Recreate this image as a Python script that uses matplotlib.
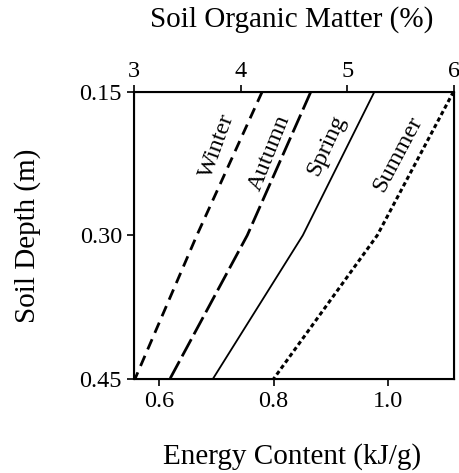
import numpy as np
import matplotlib.pyplot as plt

plt.rcParams['font.family'] = ['Liberation Serif', 'DejaVu Serif']

# depth (m) and energy content (kJ/g) for each season
depth = [0.15, 0.30, 0.45]
winter = [0.780, 0.666, 0.558]
autumn = [0.865, 0.754, 0.619]
spring = [0.976, 0.851, 0.694]
summer = [1.114, 0.981, 0.800]

series = [
    ("Winter", winter, (0, (4, 2.5)), 2.0, (0.702, 0.207, 70)),
    ("Autumn", autumn, (0, (7, 2)), 2.0, (0.793, 0.214, 68)),
    ("Spring", spring, "-", 1.3, (0.893, 0.206, 65)),
    ("Summer", summer, (0, (1.4, 1)), 2.2, (1.017, 0.215, 62)),
]

energy_ticks = [0.6, 0.8, 1.0]
depth_ticks = [0.15, 0.30, 0.45]
om_ticks = [3, 4, 5, 6]

fs = 17.5
fs_lab = 21

fig = plt.figure(figsize=(4.6, 4.73), dpi=100)
ax = fig.add_axes([0.291, 0.199, 0.696, 0.607])

for name, vals, ls, lw, (tx, ty, rot) in series:
    ax.plot(vals, depth, color="black", linestyle=ls, linewidth=lw)
    ax.text(tx, ty, name, rotation=rot, fontsize=fs, ha="center", va="center")

ax.set_xlim(0.556, 1.115)
ax.set_ylim(0.45, 0.15)
ax.set_xticks(energy_ticks)
ax.set_xticklabels(["0.6", "0.8", "1.0"])
ax.set_yticks(depth_ticks)
ax.set_yticklabels(["0.15", "0.30", "0.45"])
ax.tick_params(labelsize=fs, length=5, width=1.2, direction="out")
ax.set_xlabel("Energy Content (kJ/g)", fontsize=fs_lab, va="center")
ax.xaxis.set_label_coords(0.494, -0.272)
ax.set_ylabel("Soil Depth (m)", fontsize=fs_lab, va="center")
ax.yaxis.set_label_coords(-0.331, 0.5)
for s in ax.spines.values():
    s.set_linewidth(1.5)

ax2 = ax.twiny()
ax2.set_xlim(3, 6)
ax2.set_xticks(om_ticks)
ax2.tick_params(labelsize=fs, length=5, width=1.2, direction="out", pad=2)
ax2.set_xlabel("Soil Organic Matter (%)", fontsize=fs_lab, va="center")
ax2.xaxis.set_label_coords(0.494, 1.251)

fig.savefig("out.png", dpi=100)
